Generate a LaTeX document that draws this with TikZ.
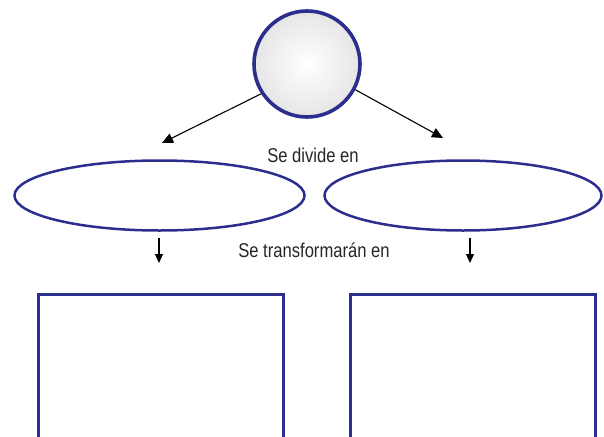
\documentclass[tikz,border=0pt]{standalone}
\usepackage{fontspec}
\setmainfont{Liberation Sans}[FakeStretch=0.83]
\usetikzlibrary{arrows.meta,shapes.geometric}
\definecolor{azul}{RGB}{44,46,142}
\begin{document}
\begin{tikzpicture}[x=1pt,y=-1pt,
  raiz/.style={circle,draw=azul,line width=3.6pt,minimum size=106pt,inner sep=0pt,
    shading=radial,inner color=white,outer color=black!10},
  parte/.style={ellipse,draw=azul,line width=2.5pt,minimum height=70pt,inner sep=0pt},
  caja/.style={rectangle,draw=azul,line width=2.8pt,minimum width=245pt,minimum height=200pt,inner sep=0pt},
  rotulo/.style={font=\fontsize{20}{24}\selectfont,text=black!85},
  flecha/.style={line width=1.1pt,-{Triangle[length=11pt,width=10pt]}}]
  \useasboundingbox (0,0) rectangle (604,436);
  \clip (0,0) rectangle (604,436);
  \node[raiz] (raiz) at (307,64) {};
  \node[parte,minimum width=290pt] (parteL) at (159.5,195.5) {};
  \node[parte,minimum width=277pt] (parteR) at (463,195.5) {};
  \node[caja] (cajaL) at (161,394.5) {};
  \node[caja] (cajaR) at (473,394.5) {};
  \node[rotulo] (divide) at (313,155) {Se divide en};
  \node[rotulo] (transforma) at (314,250) {Se transformarán en};
  \coordinate (puntaL) at (162,143);
  \coordinate (puntaR) at (443,138);
  \draw[flecha] (raiz.213) -- (puntaL);
  \draw[flecha] (raiz.332) -- (puntaR);
  \coordinate (bajaL) at (159,263);
  \coordinate (bajaR) at (470,263);
  \draw[flecha,shorten <=6pt,-{Triangle[length=9pt,width=8pt]}] (bajaL |- parteL.south) -- (bajaL);
  \draw[flecha,shorten <=6pt,-{Triangle[length=9pt,width=8pt]}] (bajaR |- parteR.south) -- (bajaR);
\end{tikzpicture}
\end{document}
